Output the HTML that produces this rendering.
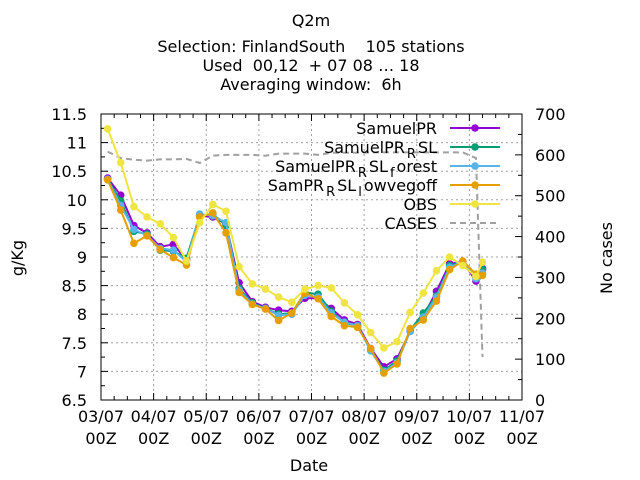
<!DOCTYPE html>
<html><head><meta charset="utf-8"><style>
html,body{margin:0;padding:0;background:#fff;}
svg{display:block;font-family:"DejaVu Sans","Liberation Sans",sans-serif;}
</style></head><body>
<svg id="chart" width="640" height="480" viewBox="0 0 640 480" xmlns="http://www.w3.org/2000/svg">
<g font-size="16" text-anchor="middle" fill="#000">
<text x="311" y="26">Q2m</text>
<text x="311" y="52" xml:space="preserve">Selection: FinlandSouth    105 stations</text>
<text x="311" y="71" xml:space="preserve">Used  00,12  + 07 08 … 18</text>
<text x="311" y="90" xml:space="preserve">Averaging window:  6h</text>
</g>
<g id="grid"></g>
<g id="axes"></g>
<g id="series"></g>
<g id="legend"></g>
<text x="23" y="258" font-size="16" text-anchor="middle" transform="rotate(-90 23 258)">g/Kg</text>
<text x="612" y="258" font-size="16" text-anchor="middle" transform="rotate(-90 612 258)">No cases</text>
<text x="309" y="471" font-size="16" text-anchor="middle">Date</text>
</svg>
<script>
const xTickLabels = ["03/07","04/07","05/07","06/07","07/07","08/07","09/07","10/07","11/07"];
const yTicks = [6.5,7,7.5,8,8.5,9,9.5,10,10.5,11,11.5];
const y2Ticks = [0,100,200,300,400,500,600,700];
const hours = [3,9,15,21,27,33,39,45,51,57,63,69,75,81,87,93,99,105,111,117,123,129,135,141,147,153,159,165,171,174];
const samuelPR = [10.38,10.08,9.55,9.42,9.18,9.22,8.95,9.72,9.70,9.58,8.55,8.22,8.12,8.07,8.05,8.28,8.28,8.10,7.90,7.82,7.40,7.08,7.22,7.70,7.96,8.40,8.88,8.92,8.58,8.80];
const samuelPR_RSL = [10.36,9.98,9.45,9.40,9.12,9.10,8.98,9.72,9.75,9.55,8.45,8.20,8.10,8.00,8.02,8.38,8.35,8.05,7.85,7.80,7.38,7.02,7.18,7.72,8.02,8.32,8.85,8.92,8.65,8.78];
const samuelPR_RSL_forest = [10.36,9.90,9.48,9.38,9.15,9.12,8.92,9.75,9.72,9.60,8.42,8.18,8.10,7.98,8.00,8.33,8.30,8.02,7.86,7.80,7.36,7.00,7.15,7.70,7.95,8.30,8.82,8.92,8.62,8.72];
const samPR_RSL_lowvegoff = [10.35,9.82,9.24,9.37,9.13,8.99,8.86,9.70,9.77,9.42,8.38,8.17,8.09,7.89,8.02,8.37,8.27,7.96,7.80,7.77,7.40,6.97,7.13,7.75,7.90,8.23,8.78,8.93,8.70,8.68];
const obs = [11.24,10.65,9.88,9.70,9.58,9.34,8.93,9.60,9.92,9.80,8.83,8.53,8.44,8.30,8.21,8.44,8.50,8.46,8.20,7.99,7.68,7.41,7.52,8.03,8.37,8.76,9.00,8.85,8.66,8.91];
const cases = [608,592,588,586,589,589,590,580,598,600,600,600,598,603,603,603,600,605,605,605,606,606,606,606,606,606,606,606,592,105];

const NS='http://www.w3.org/2000/svg';
const L=101,R=522,T=114,B=400;
const FS=16;
function xs(h){return L+(R-L)*h/192;}
function ys(v){return B-(B-T)*(v-6.5)/5;}
function y2s(c){return B-(B-T)*c/700;}
function mk(tag,attrs,parent){const e=document.createElementNS(NS,tag);for(const k in attrs)e.setAttribute(k,attrs[k]);parent.appendChild(e);return e;}
const grid=document.getElementById('grid'),axes=document.getElementById('axes'),ser=document.getElementById('series'),leg=document.getElementById('legend');

xTickLabels.forEach((lab,i)=>{
  const x=xs(i*24);
  if(i>0&&i<xTickLabels.length-1){const g=mk('line',{x1:x,x2:x,y1:T,y2:B,stroke:'#a0a0a0','stroke-width':1,'stroke-dasharray':'2,3'},grid);
  
  }
  const t1=mk('text',{x:x,y:B+22,'font-size':FS,'text-anchor':'middle'},axes);t1.textContent=lab;
  
  
  const t2=mk('text',{x:x,y:B+44,'font-size':FS,'text-anchor':'middle'},axes);t2.textContent='00Z';
  
  
  mk('line',{x1:x,x2:x,y1:B,y2:B-7,stroke:'#000'},axes);mk('line',{x1:x,x2:x,y1:T,y2:T+7,stroke:'#000'},axes);
  if(i<xTickLabels.length-1){for(let m=1;m<4;m++){const xm=xs(i*24+m*6);mk('line',{x1:xm,x2:xm,y1:B,y2:B-4,stroke:'#000'},axes);mk('line',{x1:xm,x2:xm,y1:T,y2:T+4,stroke:'#000'},axes);}}
});
yTicks.forEach((v,i)=>{
  const y=ys(v);
  if(i>0&&i<yTicks.length-1){const g=mk('line',{x1:L,x2:R,y1:y,y2:y,stroke:'#a0a0a0','stroke-width':1,'stroke-dasharray':'2,3'},grid);
  
  }
  mk('line',{x1:L,x2:L+7,y1:y,y2:y,stroke:'#000'},axes);
  if(i<yTicks.length-1){const ym=ys(v+0.25);mk('line',{x1:L,x2:L+4,y1:ym,y2:ym,stroke:'#000'},axes);}
  const t=mk('text',{x:L-14,y:y+6,'font-size':FS,'text-anchor':'end'},axes);t.textContent=String(v);
  
  
});
y2Ticks.forEach((c,i)=>{
  const y=y2s(c);
  mk('line',{x1:R,x2:R-7,y1:y,y2:y,stroke:'#000'},axes);
  if(i<y2Ticks.length-1){const ym=y2s(c+50);mk('line',{x1:R,x2:R-4,y1:ym,y2:ym,stroke:'#000'},axes);}
  const t=mk('text',{x:R+13,y:y+6,'font-size':FS,'text-anchor':'start'},axes);t.textContent=String(c);
  
  
});
const fr=mk('rect',{x:L,y:T,width:R-L,height:B-T,fill:'none',stroke:'#000','stroke-width':1},axes);



function drawSeries(vals,color,name){
  const g=mk('g',{},ser);
  
  
  const pts=vals.map((v,i)=>xs(hours[i]).toFixed(1)+','+ys(v).toFixed(1)).join(' ');
  mk('polyline',{points:pts,fill:'none',stroke:color,'stroke-width':2},g);
  vals.forEach((v,i)=>{const c=mk('circle',{cx:xs(hours[i]),cy:ys(v),r:3.8,fill:color},g);
    
    });
}
const cg=mk('g',{},ser);


mk('polyline',{points:cases.map((c,i)=>xs(hours[i]).toFixed(1)+','+y2s(c).toFixed(1)).join(' '),fill:'none',stroke:'#a0a0a0','stroke-width':2,'stroke-dasharray':'6,4'},cg);
drawSeries(samuelPR,'#9400d3','samuelpr-series');
drawSeries(samuelPR_RSL,'#009e73','samuelpr-rsl-series');
drawSeries(samuelPR_RSL_forest,'#56b4e9','samuelpr-rsl-forest-series');
drawSeries(samPR_RSL_lowvegoff,'#e69f00','sampr-rsl-lowvegoff-series');
drawSeries(obs,'#f0e442','obs-series');

const legendItems=[
 {parts:[['SamuelPR',0]],color:'#9400d3',dash:false},
 {parts:[['SamuelPR',0],['R',1],['SL',0]],color:'#009e73',dash:false},
 {parts:[['SamuelPR',0],['R',1],['SL',0],['f',1],['orest',0]],color:'#56b4e9',dash:false},
 {parts:[['SamPR',0],['R',1],['SL',0],['l',1],['owvegoff',0]],color:'#e69f00',dash:false},
 {parts:[['OBS',0]],color:'#f0e442',dash:false},
 {parts:[['CASES',0]],color:'#a0a0a0',dash:true}
];
legendItems.forEach((it,i)=>{
  const y=128+i*19;
  const g=mk('g',{},leg);
  
  
  const t=mk('text',{x:437,y:y+6,'font-size':FS,'text-anchor':'end'},g);
  it.parts.forEach(p=>{const s=mk('tspan',{},t);s.textContent=p[0];
    if(p[1]){s.setAttribute('font-size','13');s.setAttribute('dy','5');s.setAttribute('dx','2');}
    else if(s.previousSibling&&s.previousSibling.getAttribute('dy')==='5'){s.setAttribute('dy','-5');s.setAttribute('dx','2');}});
  if(it.dash){mk('line',{x1:450,x2:500,y1:y,y2:y,stroke:it.color,'stroke-width':2,'stroke-dasharray':'6,4'},g);}
  else{mk('line',{x1:450,x2:500,y1:y,y2:y,stroke:it.color,'stroke-width':2},g);mk('circle',{cx:475,cy:y,r:3.8,fill:it.color},g);}
});
</script>
</body></html>
